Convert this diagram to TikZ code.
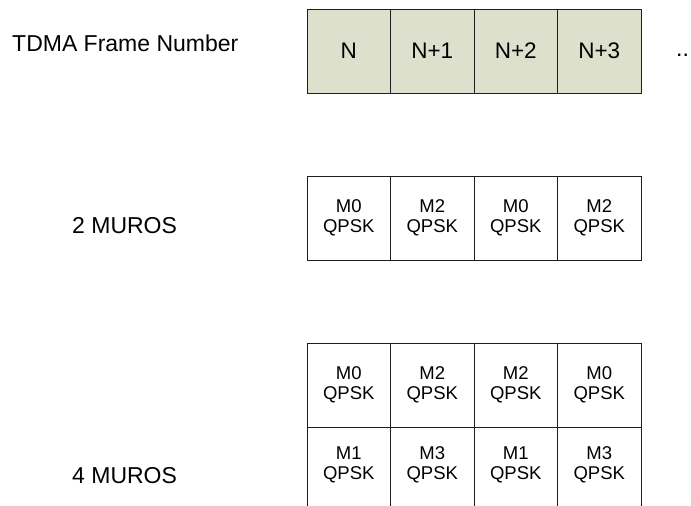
\documentclass[tikz,border=0pt]{standalone}
\usepackage{fontspec}
\setmainfont{Liberation Sans}
\definecolor{framefill}{RGB}{221,224,204}
\definecolor{edge}{RGB}{30,30,30}
\begin{document}
\begin{tikzpicture}[x=1pt,y=-1pt,
  cell/.style={draw=edge,line width=0.9pt,minimum width=83.5pt,minimum height=84pt,
    inner sep=0pt,outer sep=0pt,anchor=north west,align=center,
    font=\fontsize{18.5}{20}\selectfont},
  opencell/.style={cell,draw=none},
  frame/.style={cell,fill=framefill,font=\fontsize{22.5}{26}\selectfont},
  lbl/.style={anchor=base west,inner sep=0pt,font=\fontsize{23}{27}\selectfont},
  edgeline/.style={draw=edge,line width=0.9pt}]
\useasboundingbox (0,0) rectangle (691,506);

% row labels
\node[lbl] (tdma) at (12,51) {TDMA Frame Number};
\node[lbl] (two) at (72,233) {2 MUROS};
\node[lbl] (four) at (72,483) {4 MUROS};

% frame numbers
\node[frame] (f0) at (307,9) {N};
\node[frame] (f1) at (390.5,9) {N+1};
\node[frame] (f2) at (474,9) {N+2};
\node[frame] (f3) at (557.5,9) {N+3};
\node[lbl] (dots) at (676,56) {..};

% 2 MUROS
\node[cell] (a0) at (307,176) {M0\\QPSK};
\node[cell] (a1) at (390.5,176) {M2\\QPSK};
\node[cell] (a2) at (474,176) {M0\\QPSK};
\node[cell] (a3) at (557.5,176) {M2\\QPSK};

% 4 MUROS, upper row
\node[cell] (b0) at (307,343) {M0\\QPSK};
\node[cell] (b1) at (390.5,343) {M2\\QPSK};
\node[cell] (b2) at (474,343) {M2\\QPSK};
\node[cell] (b3) at (557.5,343) {M0\\QPSK};

% 4 MUROS, lower row (open at the bottom)
\node[opencell,minimum height=76pt] (c0) at (307,427) {M1\\QPSK};
\node[opencell,minimum height=76pt] (c1) at (390.5,427) {M3\\QPSK};
\node[opencell,minimum height=76pt] (c2) at (474,427) {M1\\QPSK};
\node[opencell,minimum height=76pt] (c3) at (557.5,427) {M3\\QPSK};
\coordinate (e0) at (307,506);
\coordinate (e1) at (390.5,506);
\coordinate (e2) at (474,506);
\coordinate (e3) at (557.5,506);
\coordinate (e4) at (641,506);
\draw[edgeline] (c0.north west) -- (e0);
\draw[edgeline] (c1.north west) -- (e1);
\draw[edgeline] (c2.north west) -- (e2);
\draw[edgeline] (c3.north west) -- (e3);
\draw[edgeline] (c3.north east) -- (e4);
\end{tikzpicture}
\end{document}
